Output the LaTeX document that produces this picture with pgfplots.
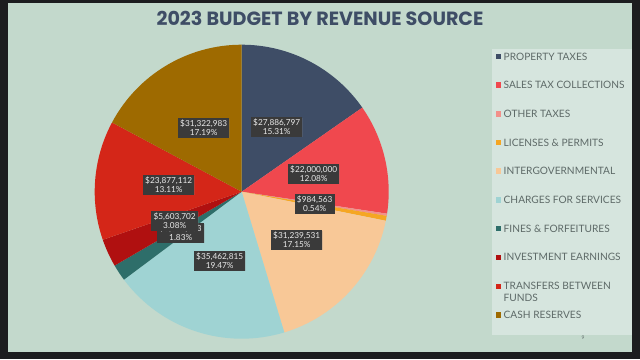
\documentclass[border=0pt]{standalone}
\usepackage{pgfplots}
\pgfplotsset{compat=1.18}
\usepackage{pgfplotstable}
\usetikzlibrary{shadows}
\usepackage{fontspec}
\setmainfont{Lato}
\newfontfamily\titlefont{Poppins}
\definecolor{bg}{HTML}{C3D9CC}
\definecolor{panel}{HTML}{D6E5DE}
\definecolor{frame}{HTML}{1C1D1F}
\definecolor{navy}{HTML}{3E4D66}
\definecolor{c0}{HTML}{3E4D66}
\definecolor{c1}{HTML}{F0484E}
\definecolor{c2}{HTML}{F2908A}
\definecolor{c3}{HTML}{F5A623}
\definecolor{c4}{HTML}{F8C897}
\definecolor{c5}{HTML}{9FD3D3}
\definecolor{c6}{HTML}{2E6E6A}
\definecolor{c7}{HTML}{B01010}
\definecolor{c8}{HTML}{D42618}
\definecolor{c9}{HTML}{9E6A00}
\definecolor{lbl}{HTML}{3A3A3A}
\definecolor{legtext}{HTML}{5E6A68}

\pgfplotstableread[col sep=comma]{
name,value,lx,ly,money,pct
Property Taxes,27886797,35,65,{\$27,886,797},15.31
Sales Tax Collections,22000000,72,18,{\$22,000,000},12.08
Other Taxes,437000,0,0,{},0.24
Licenses & Permits,984563,73,-12,{\$984,563},0.54
Intergovernmental,31239531,55,-48,{\$31,239,531},17.15
Charges for Services,35462815,-22,-69,{\$35,462,815},19.47
Fines & Forfeitures,3333333,-61,-41,{\$3,333,333},1.83
Investment Earnings,5603702,-67,-29,{\$5,603,702},3.08
Transfers Between Funds,23877112,-73,7,{\$23,877,112},13.11
Cash Reserves,31322983,-38,64,{\$31,322,983},17.19
}\budget

\begin{document}
\begin{tikzpicture}[x=1bp,y=1bp]
% slide background and frame
\fill[frame] (0,0) rectangle (640,359);
\fill[bg] (8,7) rectangle (632,356);
\fill[panel] (492,24) rectangle (632,310);
\node[font=\titlefont\bfseries\fontsize{19.2}{22}\selectfont, text=navy] at (320,341) {2023 BUDGET BY REVENUE SOURCE};
\node[font=\fontsize{5}{6}\selectfont, text=legtext] at (583,21) {9};

\begin{axis}[
  at={(241.7,167.3)}, anchor=origin,
  x=1bp, y=1bp, scale only axis,
  xmin=-150, xmax=150, ymin=-150, ymax=150,
  hide axis, clip=false]
\pgfplotstablegetrowsof{\budget}
\pgfmathtruncatemacro\nrows{\pgfplotsretval-1}
\def\total{0}
\pgfplotsforeachungrouped \i in {0,...,\nrows}{%
  \pgfplotstablegetelem{\i}{value}\of\budget
  \edef\total{\fpeval{\total+\pgfplotsretval}}%
}
\def\cum{90}
\pgfplotsforeachungrouped \i in {0,...,\nrows}{%
  \pgfplotstablegetelem{\i}{value}\of\budget
  \edef\ang{\fpeval{round(\pgfplotsretval/\total*360,4)}}%
  \edef\newcum{\fpeval{round(\cum-\ang,4)}}%
  \edef\sx{\fpeval{round(147*cosd(\cum),4)}}%
  \edef\sy{\fpeval{round(147*sind(\cum),4)}}%
  \edef\temp{\noexpand\fill[c\i] (axis cs:0,0) -- (axis cs:\sx,\sy) arc[start angle=\cum, end angle=\newcum, radius=147bp] -- cycle;}%
  \temp
  \let\cum\newcum
}
% data labels
\pgfplotsforeachungrouped \i in {0,1,3,4,5,6,7,8,9}{%
  \pgfplotstablegetelem{\i}{lx}\of\budget \let\lx\pgfplotsretval
  \pgfplotstablegetelem{\i}{ly}\of\budget \let\ly\pgfplotsretval
  \pgfplotstablegetelem{\i}{money}\of\budget \let\mo\pgfplotsretval
  \pgfplotstablegetelem{\i}{pct}\of\budget \let\pc\pgfplotsretval
  \edef\temp{\noexpand\node[fill=lbl, text=white!92!black, align=center, inner xsep=2.2bp, inner ysep=1.8bp,
     font=\noexpand\fontsize{8.3}{9.4}\noexpand\selectfont, drop shadow={opacity=0.25, shadow xshift=0.8bp, shadow yshift=-0.8bp}] at (axis cs:\lx,\ly) {\expandafter\noexpand\mo\noexpand\\\pc\noexpand\%};}%
  \temp
}
\end{axis}

% legend
\begin{scope}[font=\fontsize{10.2}{12}\selectfont, text=legtext]
\foreach \c/\y/\t in {c0/302.3/PROPERTY TAXES, c1/274/SALES TAX COLLECTIONS, c2/245/OTHER TAXES,
  c3/216.3/LICENSES \& PERMITS, c4/188/INTERGOVERNMENTAL, c5/159/CHARGES FOR SERVICES,
  c6/130.3/FINES \& FORFEITURES, c7/101.7/INVESTMENT EARNINGS, c9/44/CASH RESERVES}{
  \fill[\c] (495.5,\y-2.6) rectangle (500.7,\y+2.6);
  \node[anchor=west, inner sep=0pt] at (503.5,\y) {\t};
}
\fill[c8] (495.5,72.3-2.6) rectangle (500.7,72.3+2.6);
\node[anchor=north west, inner sep=0pt, align=left, font=\fontsize{10.2}{11.8}\selectfont] at (503.5,76.8) {TRANSFERS BETWEEN\\FUNDS};
\end{scope}
\end{tikzpicture}
\end{document}
